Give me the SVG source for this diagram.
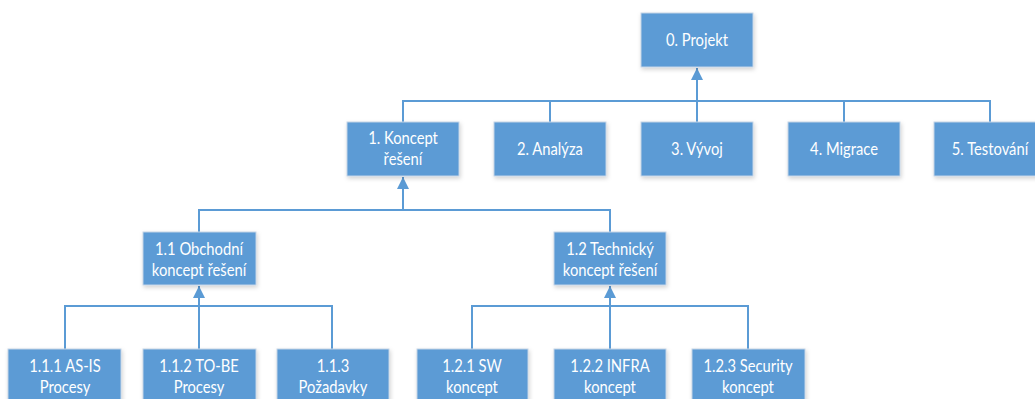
<svg xmlns="http://www.w3.org/2000/svg" width="1035" height="399" viewBox="0 0 1035 399">
<style>
.box{fill:#5B9BD5;stroke:#c4d3e6;stroke-width:1;filter:url(#sh)}
.t{fill:#ffffff;font-family:Lato,"Liberation Sans",sans-serif;font-size:18px;text-anchor:middle}
.c{fill:none;stroke:#5B9BD5;stroke-width:2}
</style>
<defs>
<filter id="sh" x="-10%" y="-10%" width="130%" height="140%">
<feDropShadow dx="1" dy="2" stdDeviation="2" flood-color="#000" flood-opacity="0.18"/>
</filter>
<marker id="ar" markerWidth="12" markerHeight="12" viewBox="0 0 12 12" refX="12" refY="6" orient="auto" markerUnits="userSpaceOnUse">
<path d="M0,0 L12,6 L0,12 Z" fill="#5B9BD5"/>
</marker>
</defs>
<g id="connectors">
<path class="c" d="M403,122 V101 H990 V122 M550,101 V122 M697,101 V122 M844,101 V122"/>
<path class="c" d="M697,101 V68" marker-end="url(#ar)"/>
<path class="c" d="M199,232 V210 H610 V232"/>
<path class="c" d="M403,210 V177" marker-end="url(#ar)"/>
<path class="c" d="M65,349 V306 H332 V349"/>
<path class="c" d="M199,349 V286" marker-end="url(#ar)"/>
<path class="c" d="M472,349 V306 H748 V349"/>
<path class="c" d="M610,349 V286" marker-end="url(#ar)"/>
</g>
<g id="n0"><rect class="box" x="641" y="13" width="112" height="54"/><g transform="matrix(0.82,0,0,1,697,0)"><text class="t" x="0" y="46">0. Projekt</text></g></g>
<g id="n1"><rect class="box" x="347" y="122" width="112" height="54"/><g transform="matrix(0.82,0,0,1,403,0)"><text class="t" x="0" y="144">1. Koncept</text><text class="t" x="0" y="165">řešení</text></g></g>
<g id="n2"><rect class="box" x="494" y="122" width="112" height="54"/><g transform="matrix(0.82,0,0,1,550,0)"><text class="t" x="0" y="155">2. Analýza</text></g></g>
<g id="n3"><rect class="box" x="641" y="122" width="112" height="54"/><g transform="matrix(0.82,0,0,1,697,0)"><text class="t" x="0" y="155">3. Vývoj</text></g></g>
<g id="n4"><rect class="box" x="788" y="122" width="112" height="54"/><g transform="matrix(0.82,0,0,1,844,0)"><text class="t" x="0" y="155">4. Migrace</text></g></g>
<g id="n5"><rect class="box" x="934" y="122" width="112" height="54"/><g transform="matrix(0.82,0,0,1,990,0)"><text class="t" x="0" y="155">5. Testování</text></g></g>
<g id="n11"><rect class="box" x="143" y="232" width="113" height="53"/><g transform="matrix(0.82,0,0,1,199,0)"><text class="t" x="0" y="255">1.1 Obchodní</text><text class="t" x="0" y="276">koncept řešení</text></g></g>
<g id="n12"><rect class="box" x="554" y="232" width="112" height="53"/><g transform="matrix(0.82,0,0,1,610,0)"><text class="t" x="0" y="255">1.2 Technický</text><text class="t" x="0" y="276">koncept řešení</text></g></g>
<g id="n111"><rect class="box" x="8" y="349" width="113" height="54"/><g transform="matrix(0.82,0,0,1,65,0)"><text class="t" x="0" y="372">1.1.1 AS-IS</text><text class="t" x="0" y="393">Procesy</text></g></g>
<g id="n112"><rect class="box" x="143" y="349" width="113" height="54"/><g transform="matrix(0.82,0,0,1,199,0)"><text class="t" x="0" y="372">1.1.2 TO-BE</text><text class="t" x="0" y="393">Procesy</text></g></g>
<g id="n113"><rect class="box" x="277" y="349" width="112" height="54"/><g transform="matrix(0.82,0,0,1,333,0)"><text class="t" x="0" y="372">1.1.3</text><text class="t" x="0" y="393">Požadavky</text></g></g>
<g id="n121"><rect class="box" x="417" y="349" width="111" height="54"/><g transform="matrix(0.82,0,0,1,472,0)"><text class="t" x="0" y="372">1.2.1 SW</text><text class="t" x="0" y="393">koncept</text></g></g>
<g id="n122"><rect class="box" x="554" y="349" width="112" height="54"/><g transform="matrix(0.82,0,0,1,610,0)"><text class="t" x="0" y="372">1.2.2 INFRA</text><text class="t" x="0" y="393">koncept</text></g></g>
<g id="n123"><rect class="box" x="692" y="349" width="113" height="54"/><g transform="matrix(0.82,0,0,1,748,0)"><text class="t" x="0" y="372">1.2.3 Security</text><text class="t" x="0" y="393">koncept</text></g></g>
</svg>
